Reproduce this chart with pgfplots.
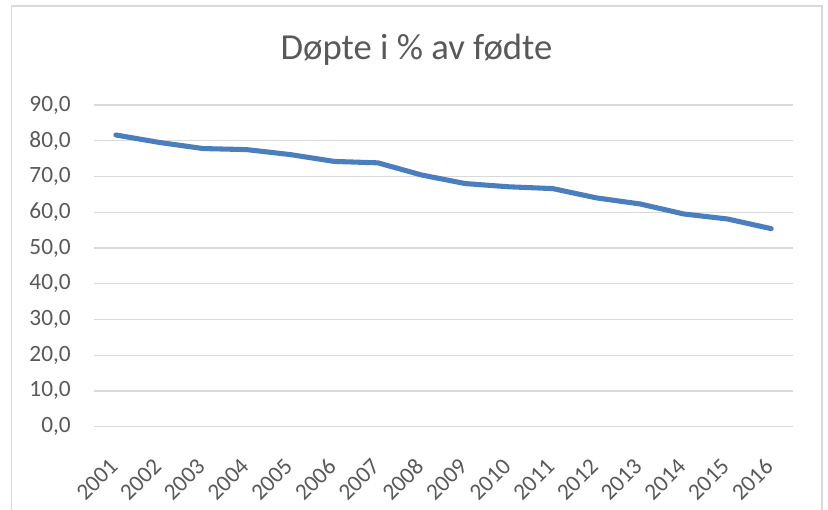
\documentclass[border=0pt]{standalone}
\usepackage{pgfplots}
\pgfplotsset{compat=1.18}
\usepackage{fontspec}
\setmainfont{Carlito}
\definecolor{txtc}{HTML}{595959}
\definecolor{gridc}{HTML}{D9D9D9}
\definecolor{linec}{HTML}{4A7EBE}
\begin{document}
\begin{tikzpicture}
\useasboundingbox (-70.5pt,-62.5pt) rectangle (550.5pt,320pt);
\begin{axis}[
  at={(0,0)}, anchor=south west,
  scale only axis,
  width=524.25pt, height=241.3pt,
  xmin=-0.5, xmax=15.5,
  ymin=0, ymax=90,
  ytick={0,10,...,90},
  xtick={0,...,15},
  xticklabels={2001,2002,2003,2004,2005,2006,2007,2008,2009,2010,2011,2012,2013,2014,2015,2016},
  xmajorgrids=false,
  ymajorgrids=true,
  major grid style={draw=gridc, line width=1pt},
  axis line style={draw=none},
  major tick length=0pt,
  minor tick num=0,
  tick style={draw=none},
  /pgf/number format/assume math mode=true,
  yticklabel={\pgfmathprintnumber[fixed,fixed zerofill,precision=1,use comma]{\tick}},
  yticklabel style={anchor=east, inner sep=0pt, xshift=-17.25pt, text=txtc, font=\fontsize{17.5}{20}\selectfont},
  xticklabel style={yshift=-27pt, xshift=-1.5pt, rotate=45, anchor=east, inner sep=0pt, text=txtc, font=\fontsize{17.5}{20}\selectfont},
  clip=false,
]
\addplot[linec, line width=3.8pt, line cap=round, line join=round] coordinates {
  (0,81.6) (1,79.5) (2,77.8) (3,77.5) (4,76.1) (5,74.2) (6,73.8) (7,70.4)
  (8,68.0) (9,67.1) (10,66.6) (11,64.0) (12,62.3) (13,59.5) (14,58.1) (15,55.4)
};
\end{axis}
\node[anchor=base, text=txtc, font=\fontsize{27.5}{32}\selectfont, inner sep=0pt] at (241.9pt,275pt) {Døpte i \% av fødte};
\draw[gridc, line width=1.2pt] (-61.9pt,-80pt) -- (-61.9pt,315.5pt) -- (546pt,315.5pt) -- (546pt,-80pt);
\end{tikzpicture}
\end{document}
